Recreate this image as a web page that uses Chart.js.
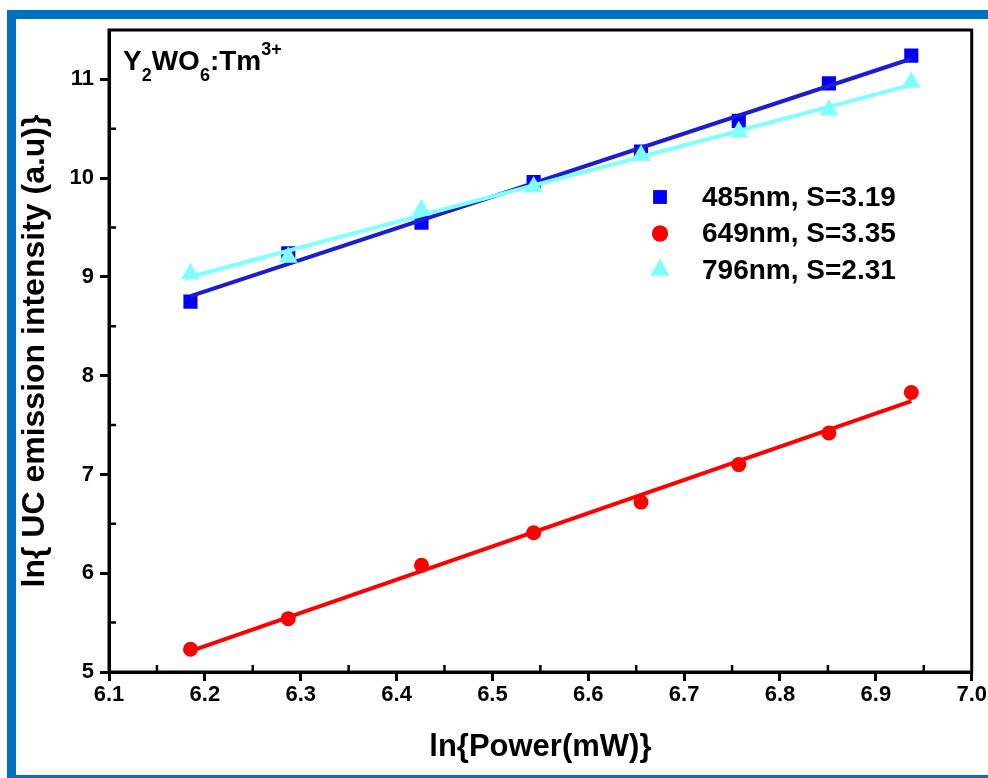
<!DOCTYPE html>
<html lang="en">
<head>
  <meta charset="UTF-8" />
  <title>UC emission vs pump power</title>
  <script src="https://cdn.jsdelivr.net/npm/chart.js@4.4.0/dist/chart.umd.min.js"></script>
  <style>
    html, body { margin: 0; padding: 0; background: #fff; }
    #wrap { width: 988px; height: 778px; position: relative; }
  </style>
</head>
<body>
  <div id="wrap"><canvas id="ucChart"></canvas></div>

  <script>
    // ---- data --------------------------------------------------------------
    const lnPower = [6.185, 6.287, 6.426, 6.543, 6.655, 6.757, 6.851, 6.937];
    const ln485   = [8.75, 9.24, 9.55, 9.96, 10.27, 10.58, 10.96, 11.24];
    const ln649   = [5.23, 5.54, 6.08, 6.41, 6.72, 7.10, 7.42, 7.83];
    const ln796   = [9.03, 9.20, 9.68, 9.91, 10.23, 10.47, 10.69, 10.97];
    const seriesLabels = ['485nm, S=3.19', '649nm, S=3.35', '796nm, S=2.31'];
    const sampleLabel  = ['Y', '2', 'WO', '6', ':Tm', '3+'];

    const FONT = "'Liberation Sans', Arial, sans-serif";
    const BLUE = '#0000ff', BLUE_LINE = '#1c1cd0', RED = '#ff0000', CYAN = '#80ffff';

    const pts = ys => lnPower.map((x, i) => ({ x, y: ys[i] }));

    // least squares line, drawn between first and last point
    function fitLine(ys) {
      const n = lnPower.length;
      const mx = lnPower.reduce((a, b) => a + b, 0) / n;
      const my = ys.reduce((a, b) => a + b, 0) / n;
      let sxy = 0, sxx = 0;
      lnPower.forEach((x, i) => { sxy += (x - mx) * (ys[i] - my); sxx += (x - mx) ** 2; });
      const b = sxy / sxx, a = my - b * mx;
      const x0 = lnPower[0], x1 = lnPower[n - 1];
      return [{ x: x0, y: a + b * x0 }, { x: x1, y: a + b * x1 }];
    }

    const lineDs = (data, color, order) => ({
      type: 'line', data, borderColor: color, borderWidth: 4,
      pointRadius: 0, fill: false, order
    });
    const dotDs = (data, color, style, r, order) => ({
      type: 'scatter', data, backgroundColor: color, borderColor: color,
      borderWidth: 0, pointStyle: style, pointRadius: r, order
    });

    // ---- plugins ------------------------------------------------------------
    const frame = {
      id: 'frame',
      beforeDraw(chart) {
        const ctx = chart.ctx;
        ctx.save();
        ctx.fillStyle = '#fff';
        ctx.fillRect(0, 0, chart.width, chart.height);
        ctx.fillStyle = '#0070c0';
        ctx.fillRect(7, 10, chart.width - 7, 9);
        ctx.fillRect(7, 10, 9, chart.height - 10);
        ctx.fillRect(7, chart.height - 3, chart.width - 7, 3);
        ctx.restore();
      },
      afterDraw(chart) {
        const { ctx, chartArea: a, scales: { x, y } } = chart;
        ctx.save();
        ctx.strokeStyle = '#000';
        ctx.lineWidth = 3;
        ctx.strokeRect(a.left, a.top, a.right - a.left, a.bottom - a.top);

        // minor ticks, pointing inward
        ctx.lineWidth = 2.5;
        ctx.beginPath();
        x.ticks.forEach(t => {
          const px = x.getPixelForValue(t.value + 0.05);
          if (px < a.right - 2) { ctx.moveTo(px, a.bottom); ctx.lineTo(px, a.bottom - 7); }
        });
        y.ticks.forEach(t => {
          const py = y.getPixelForValue(t.value + 0.5);
          if (py > a.top + 2) { ctx.moveTo(a.left, py); ctx.lineTo(a.left + 7, py); }
        });
        ctx.stroke();

        // sample label with sub/superscripts
        ctx.fillStyle = '#000';
        ctx.textBaseline = 'alphabetic';
        let cx = a.left + 14;
        const base = a.top + 40;
        sampleLabel.forEach((s, i) => {
          const sub = i === 1 || i === 3, sup = i === 5;
          ctx.font = (sub || sup) ? `bold 18px ${FONT}` : `bold 28px ${FONT}`;
          const dy = sub ? 11 : sup ? -15 : 0;
          ctx.fillText(s, cx, base + dy);
          cx += ctx.measureText(s).width;
        });

        // legend
        const styles = [['rect', BLUE], ['circle', RED], ['triangle', CYAN]];
        const radii = [9.5, 8, 11];
        seriesLabels.forEach((txt, i) => {
          const my = 197 + i * 36.5;
          ctx.fillStyle = styles[i][1];
          Chart.helpers.drawPoint(ctx, { pointStyle: styles[i][0], radius: radii[i], borderWidth: 0 }, 660, my);
          ctx.fill();
          ctx.fillStyle = '#000';
          ctx.font = `bold 28px ${FONT}`;
          ctx.textBaseline = 'middle';
          ctx.fillText(txt, 702, my + 1);
        });
        ctx.restore();
      }
    };

    // ---- chart ----------------------------------------------------------------
    new Chart(document.getElementById('ucChart'), {
      data: {
        datasets: [
          dotDs(pts(ln485), BLUE, 'rect', 10, 6),
          lineDs(fitLine(ln485), BLUE_LINE, 5),
          dotDs(pts(ln649), RED, 'circle', 7.5, 4),
          lineDs(fitLine(ln649), RED, 3),
          dotDs(pts(ln796), CYAN, 'triangle', 11, 2),
          lineDs(fitLine(ln796), CYAN, 1)
        ]
      },
      options: {
        responsive: true,
        maintainAspectRatio: false,
        animation: false,
        layout: { padding: { left: 0, top: 30, right: 16, bottom: 0 } },
        plugins: { legend: { display: false }, tooltip: { enabled: false } },
        scales: {
          x: {
            type: 'linear', min: 6.1, max: 7.0,
            afterFit: s => { s.height = 106; },
            ticks: { stepSize: 0.1, includeBounds: false, color: '#000',
                     font: { family: FONT, size: 22, weight: 'bold' },
                     padding: 1, maxRotation: 0, autoSkip: false, callback: v => v.toFixed(1) },
            grid: { drawOnChartArea: false, color: '#000', lineWidth: 3, tickLength: 9 },
            border: { display: true, color: '#000', width: 3 },
            title: { display: true, text: 'ln{Power(mW)}', color: '#000',
                     font: { family: FONT, size: 31, weight: 'bold' },
                     padding: { top: 0, bottom: 12 } }
          },
          y: {
            type: 'linear', min: 5, max: 11.5,
            afterFit: s => { s.width = 109; },
            ticks: { stepSize: 1, includeBounds: false, color: '#000',
                     font: { family: FONT, size: 22, weight: 'bold' }, padding: 6 },
            grid: { drawOnChartArea: false, color: '#000', lineWidth: 3, tickLength: 9 },
            border: { display: true, color: '#000', width: 3 },
            title: { display: true, text: 'ln{ UC emission intensity (a.u)}', color: '#000',
                     font: { family: FONT, size: 32, weight: 'bold' },
                     padding: { top: 16, bottom: 0 } }
          }
        }
      },
      plugins: [frame]
    });
  </script>
</body>
</html>
